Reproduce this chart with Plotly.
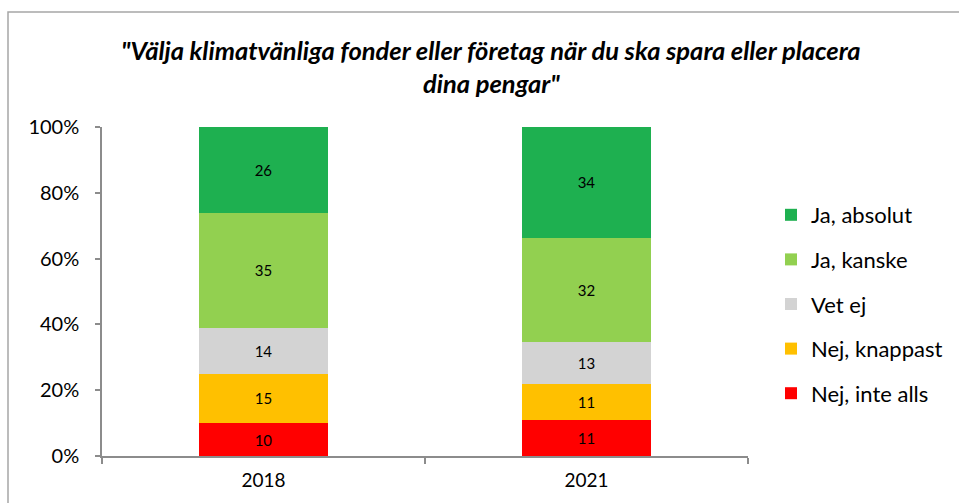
import plotly.graph_objects as go

years = ["2018", "2021"]
series_names = ["Nej, inte alls", "Nej, knappast", "Vet ej", "Ja, kanske", "Ja, absolut"]
nej_inte_alls = [10, 11]
nej_knappast = [15, 11]
vet_ej = [14, 13]
ja_kanske = [35, 32]
ja_absolut = [26, 34]
colors = ["#FF0000", "#FFC000", "#D3D3D3", "#92D050", "#1EB050"]
y_ticks = [0, 20, 40, 60, 80, 100]
y_tick_labels = ["0%", "20%", "40%", "60%", "80%", "100%"]

values = [nej_inte_alls, nej_knappast, vet_ej, ja_kanske, ja_absolut]

FONT = "Lato"
W, H = 959, 503
L, R, T, B = 102, 211, 127, 47
pw, ph = W - L - R, H - T - B

def px_x(x):
    return (x - L) / pw

def px_y(y):
    return (H - B - y) / ph

fig = go.Figure()
n = len(series_names)
for i, (name, vals, col) in enumerate(zip(series_names, values, colors)):
    fig.add_trace(go.Bar(
        x=years, y=vals, name=name, legendgroup=name, legendrank=n - i,
        marker=dict(color=col, line=dict(width=0)),
        text=[str(v) for v in vals], textposition="inside",
        insidetextanchor="middle", constraintext="none",
        textfont=dict(family=FONT, size=15, color="#000000"),
        width=0.4,
    ))

fig.update_layout(
    width=W, height=H,
    margin=dict(l=L, r=R, t=T, b=B, autoexpand=False),
    barmode="stack", barnorm="percent",
    paper_bgcolor="white", plot_bgcolor="white",
    font=dict(family=FONT, color="#000000"),
    showlegend=True,
    legend=dict(
        x=px_x(771), xanchor="left", y=px_y(194), yanchor="top",
        traceorder="grouped", tracegroupgap=13,
        font=dict(family=FONT, size=22, color="#000000"),
        bgcolor="rgba(0,0,0,0)",
    ),
    xaxis=dict(
        automargin=False,
        showline=True, linecolor="#8c8c8c", linewidth=1.5,
        ticks="outside", ticklen=6, tickcolor="#8c8c8c", tickwidth=1.5,
        tickson="boundaries", showgrid=False,
        tickfont=dict(family=FONT, size=19, color="#000000"),
        ticklabelstandoff=6,
    ),
    yaxis=dict(
        automargin=False,
        range=[0, 100], showline=True, linecolor="#8c8c8c", linewidth=1.5,
        ticks="outside", ticklen=5, tickcolor="#8c8c8c", tickwidth=1.5,
        tickvals=y_ticks, ticktext=y_tick_labels, showgrid=False, zeroline=False,
        tickfont=dict(family=FONT, size=20, color="#000000"),
        ticklabelstandoff=12,
    ),
    annotations=[
        dict(text="<b><i>\"Välja klimatvänliga fonder eller företag när du ska spara eller placera</i></b>",
             x=px_x(491), y=px_y(50), xref="paper", yref="paper", showarrow=False,
             xanchor="center", yanchor="middle", font=dict(family=FONT, size=25.5, color="#000000")),
        dict(text="<b><i>dina pengar\"</i></b>",
             x=px_x(491), y=px_y(83), xref="paper", yref="paper", showarrow=False,
             xanchor="center", yanchor="middle", font=dict(family=FONT, size=25.5, color="#000000")),
    ],
    shapes=[
        dict(type="rect", xref="paper", yref="paper",
             x0=px_x(8), x1=px_x(975), y0=px_y(520), y1=px_y(12),
             line=dict(color="#a6a6a6", width=1.5), fillcolor="rgba(0,0,0,0)", layer="below"),
    ],
)

fig.write_html("out.html", config={"displayModeBar": False},
               post_script="document.body.style.margin='0';document.body.style.overflow='hidden';")
